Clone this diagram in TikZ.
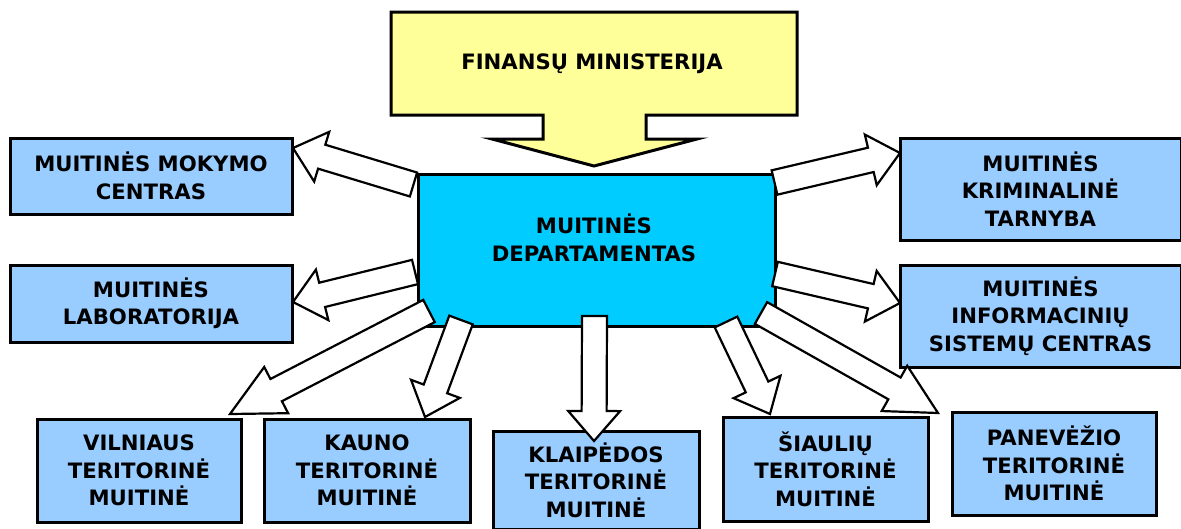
\documentclass[tikz,border=0pt]{standalone}
\usepackage{fontspec}
\setmainfont{DejaVu Sans}
\usetikzlibrary{calc}

\definecolor{unitblue}{HTML}{99CCFF}
\definecolor{deptblue}{HTML}{00CCFF}
\definecolor{minyellow}{HTML}{FFFF99}

\newcommand{\unitfont}{\fontsize{21.2}{27.5}\selectfont\bfseries}
% block arrow: [head length]{tail}{tip}
\newcommand{\blockarrow}[3][30pt]{%
  \draw[arr] ($(#2)!12.5pt!90:(#3)$) -- ($(#3)!#1!(#2)!12.5pt!90:(#3)$)
    -- ($(#3)!#1!(#2)!26pt!90:(#3)$) -- (#3)
    -- ($(#3)!#1!(#2)!26pt!-90:(#3)$) -- ($(#3)!#1!(#2)!12.5pt!-90:(#3)$)
    -- ($(#2)!12.5pt!-90:(#3)$) -- cycle;}

\tikzset{
  unit/.style={draw, line width=3pt, fill=unitblue, font=\unitfont, align=center, inner sep=0pt},
  arr/.style={draw, line width=2.2pt, fill=white, line join=miter}
}

\begin{document}
\begin{tikzpicture}[x=1pt,y=-1pt]
  \useasboundingbox (0,0) rectangle (1181,528);

  % ministry
  \draw[line width=3pt, fill=minyellow] (391,12) -- (797,12) -- (797,115) -- (646,115) -- (646,139)
    -- (697,139) -- (594,166) -- (492,139) -- (543,139) -- (543,115) -- (391,115) -- cycle;
  \node[font=\unitfont] (fin) at (592,64) {FINANSŲ MINISTERIJA};

  % department
  \node[draw, line width=3pt, fill=deptblue, minimum width=357pt, minimum height=152pt] (dept) at (596.5,250) {};
  \node[font=\unitfont, align=center] (deptname) at (594,238) {MUITINĖS\\DEPARTAMENTAS};

  % units
  \node[unit, minimum width=282pt, minimum height=76pt] (mok) at (151,176) {MUITINĖS MOKYMO\\CENTRAS};
  \node[unit, minimum width=282pt, minimum height=77pt] (lab) at (151,303.5) {MUITINĖS\\LABORATORIJA};
  \node[unit, minimum width=281pt, minimum height=102pt] (krim) at (1040.5,189) {MUITINĖS\\KRIMINALINĖ\\TARNYBA};
  \node[unit, minimum width=281pt, minimum height=102pt] (inf) at (1040.5,316) {MUITINĖS\\INFORMACINIŲ\\SISTEMŲ CENTRAS};
  \node[unit, minimum width=204pt, minimum height=103pt] (vil) at (139,470.5) {VILNIAUS\\TERITORINĖ\\MUITINĖ};
  \node[unit, minimum width=206pt, minimum height=103pt] (kau) at (367,470.5) {KAUNO\\TERITORINĖ\\MUITINĖ};
  \node[unit, minimum width=206pt, minimum height=98pt] (kla) at (596,480) {KLAIPĖDOS\\TERITORINĖ\\MUITINĖ};
  \node[unit, minimum width=205pt, minimum height=104pt] (sia) at (825.5,469) {ŠIAULIŲ\\TERITORINĖ\\MUITINĖ};
  \node[unit, minimum width=204pt, minimum height=103pt] (pan) at (1054,463.5) {PANEVĖŽIO\\TERITORINĖ\\MUITINĖ};

  % arrow ends
  \coordinate (mokTail) at (413.5,184.5); \coordinate (mokTip) at (293,148);
  \coordinate (labTail) at (415,272);     \coordinate (labTip) at (293,302);
  \coordinate (krimTail) at (774.5,182.5); \coordinate (krimTip) at (900,153);
  \coordinate (infTail) at (775,274);     \coordinate (infTip) at (900,303);
  \coordinate (vilTail) at (429,311);     \coordinate (vilTip) at (230,414);
  \coordinate (kauTail) at (461,320);     \coordinate (kauTip) at (425,417);
  \coordinate (klaTail) at (594.5,316);   \coordinate (klaTip) at (594,441);
  \coordinate (siaTail) at (726,322);     \coordinate (siaTip) at (770,414);
  \coordinate (panTail) at (761,313);     \coordinate (panTip) at (938,413);

  \blockarrow{mokTail}{mokTip}
  \blockarrow{labTail}{labTip}
  \blockarrow{krimTail}{krimTip}
  \blockarrow{infTail}{infTip}
  \blockarrow[52pt]{vilTail}{vilTip}
  \blockarrow{kauTail}{kauTip}
  \blockarrow{klaTail}{klaTip}
  \blockarrow{siaTail}{siaTip}
  \blockarrow[50pt]{panTail}{panTip}
\end{tikzpicture}
\end{document}
